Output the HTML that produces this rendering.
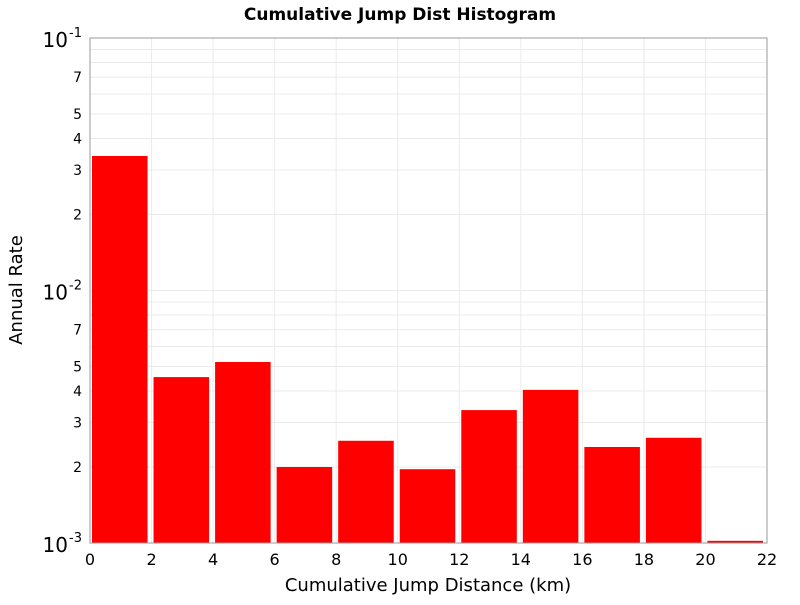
<!DOCTYPE html>
<html><head><meta charset="utf-8"><style>
body{margin:0;background:#fff;}
svg{font-family:"DejaVu Sans","Liberation Sans",sans-serif;}
</style></head><body>
<svg id="chart" width="800" height="600" xmlns="http://www.w3.org/2000/svg">
<text x="400" y="20" text-anchor="middle" font-size="17" font-weight="bold">Cumulative Jump Dist Histogram</text>
<text x="428" y="591" text-anchor="middle" font-size="18">Cumulative Jump Distance (km)</text>
<text x="22" y="290" text-anchor="middle" font-size="18" transform="rotate(-90 22 290)">Annual Rate</text>
<g id="grid"></g><g id="bars"></g><g id="axes"></g>
</svg>
<script>
const binStarts=[0,2,4,6,8,10,12,14,16,18,20];
const rates=[0.0341,0.00454,0.00521,0.0020,0.00254,0.00196,0.00336,0.00404,0.0024,0.00261,0.00102];
const xTicks=[0,2,4,6,8,10,12,14,16,18,20,22];
const minorLabels=[2,3,4,5,7];
const X0=90,X1=767,Y0=543,Y1=38;
const ns="http://www.w3.org/2000/svg";
function xs(v){return X0+(v/22)*(X1-X0);}
function ys(v){return Y0-(Math.log10(v)+3)/2*(Y0-Y1);}
function mk(t,a,p){const e=document.createElementNS(ns,t);for(const k in a)e.setAttribute(k,a[k]);p.appendChild(e);return e;}
const grid=document.getElementById('grid'),bars=document.getElementById('bars'),axes=document.getElementById('axes');
for(const t of xTicks){const l=mk('line',{x1:xs(t),x2:xs(t),y1:Y1,y2:Y0,stroke:'#ebebeb'},grid);

}
for(let d=-3;d<-1;d++){for(let m=1;m<10;m++){const v=m*Math.pow(10,d);const y=ys(v);
const l=mk('line',{x1:X0,x2:X1,y1:y,y2:y,stroke:'#ebebeb'},grid);


if(minorLabels.includes(m)){const t=mk('text',{x:82,y:y+5,'text-anchor':'end','font-size':14},axes);t.textContent=m;

}}}
for(const d of [-3,-2,-1]){const y=ys(Math.pow(10,d));
const t=mk('text',{x:68,y:y+9,'text-anchor':'end','font-size':20},axes);t.textContent='10';


const s=mk('text',{x:69,y:y-1,'text-anchor':'start','font-size':13},axes);s.textContent=String(d);

}
binStarts.forEach((b,i)=>{const x=xs(b)+2,w=xs(b+2)-xs(b)-6,y=ys(rates[i]);
const r=mk('rect',{x:x,y:y,width:w,height:Y0-y,fill:'#ff0000'},bars);

});
const fr=mk('rect',{x:X0,y:Y1,width:X1-X0,height:Y0-Y1,fill:'none',stroke:'#999'},axes);


for(const t of xTicks){const tx=mk('text',{x:xs(t),y:565,'text-anchor':'middle','font-size':16},axes);tx.textContent=t;

}
</script>
</body></html>
